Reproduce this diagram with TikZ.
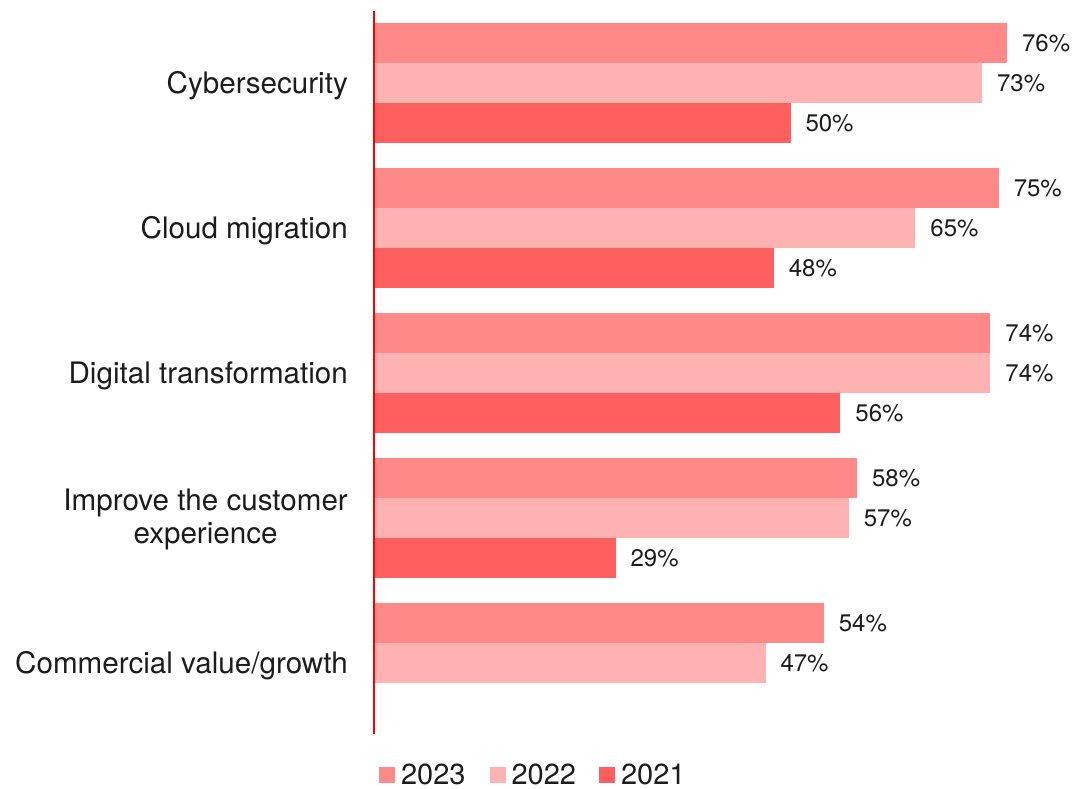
\documentclass[tikz,border=0pt]{standalone}
\usepackage{fontspec}
\setmainfont{TeX Gyre Heros}
\usetikzlibrary{positioning}
\definecolor{c2023}{HTML}{FF8888}
\definecolor{c2022}{HTML}{FFB2B2}
\definecolor{c2021}{HTML}{FF5F5F}
\definecolor{txtgray}{HTML}{1C1C1C}
\tikzset{
  bar/.style={inner sep=0pt,outer sep=0pt,minimum height=40pt,anchor=west},
  pct/.style={inner sep=0pt,outer sep=0pt,text=txtgray,font=\fontsize{24}{28}\selectfont},
  cat/.style={inner sep=0pt,anchor=base east,align=center,text=txtgray,font=\fontsize{29.6}{32.5}\selectfont},
  legbox/.style={inner sep=0pt,outer sep=0pt,minimum size=16pt},
  legtxt/.style={inner sep=0pt,outer sep=0pt,text=txtgray,font=\fontsize{29}{33}\selectfont}
}
\begin{document}
\begin{tikzpicture}[x=1pt,y=-1pt]
\useasboundingbox (0,0) rectangle (1076,788);
\foreach \id/\y/\v/\col in {
    cyA/23/76/c2023, cyB/63/73/c2022, cyC/103/50/c2021,
    clA/168/75/c2023, clB/208/65/c2022, clC/248/48/c2021,
    dtA/313/74/c2023, dtB/353/74/c2022, dtC/393/56/c2021,
    ceA/458/58/c2023, ceB/498/57/c2022, ceC/538/29/c2021,
    cvA/603/54/c2023, cvB/643/47/c2022}
{
    \node[bar,fill=\col,minimum width={\v*8.33pt}] (b\id) at (374,\y+20) {};
    \node[pct,right=15pt of b\id] (p\id) {\v\%};
}
\node[cat] (cy) at (348,93.5) {Cybersecurity};
\node[cat] (cl) at (348,238.5) {Cloud migration};
\node[cat] (dt) at (348,383.5) {Digital transformation};
\node[cat] (ce) at (348,543.2) {Improve the customer\\experience};
\node[cat] (cv) at (348,673.5) {Commercial value/growth};
\coordinate (axtop) at (374,11);
\coordinate (axbot) at (374,734);
\draw[red,line width=2.3pt] (axtop) -- (axbot);
\node[legbox,fill=c2023] (k2023) at (387,774.5) {};
\node[legtxt,right=6pt of k2023] (l2023) {2023};
\node[legbox,fill=c2022] (k2022) at (497.5,774.5) {};
\node[legtxt,right=6pt of k2022] (l2022) {2022};
\node[legbox,fill=c2021] (k2021) at (607,774.5) {};
\node[legtxt,right=6pt of k2021] (l2021) {2021};
\end{tikzpicture}
\end{document}
